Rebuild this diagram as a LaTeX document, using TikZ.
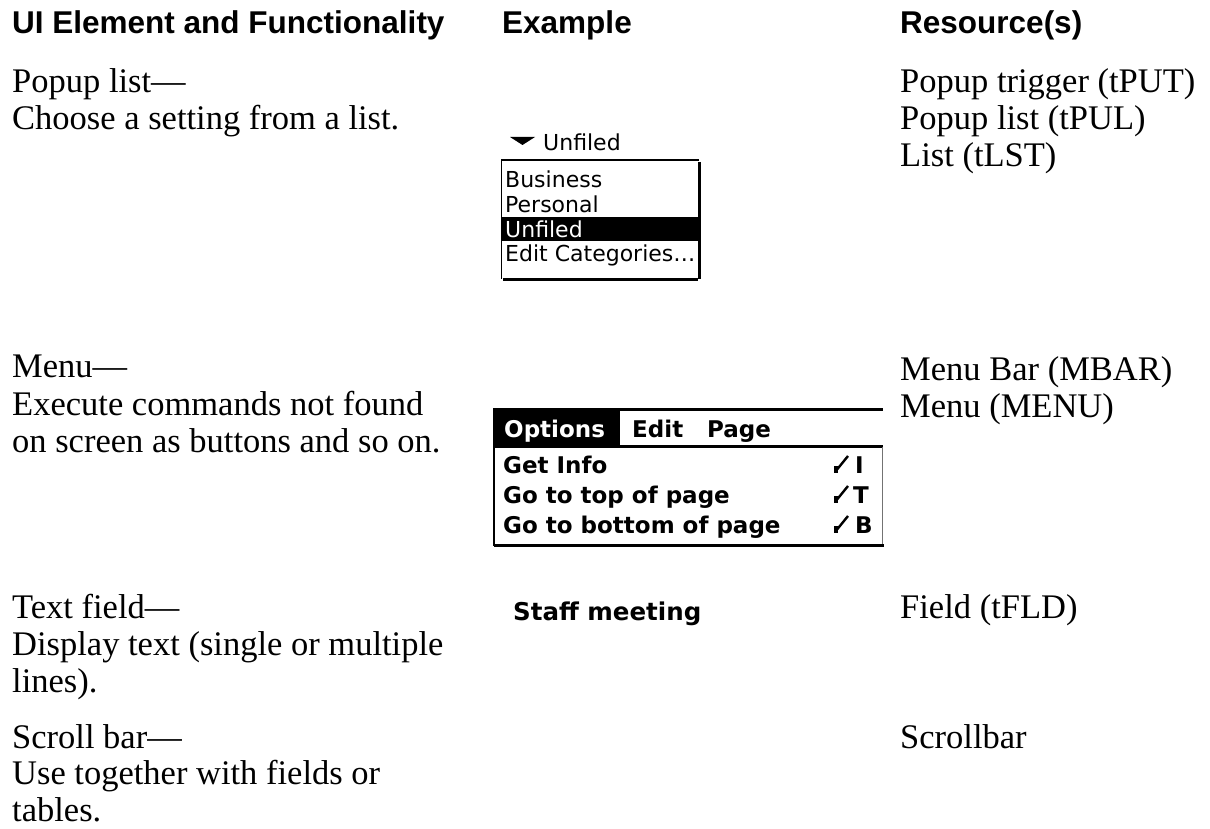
\documentclass[tikz,border=0pt]{standalone}
\usepackage{fontspec}
\setmainfont{Liberation Serif}
\newfontfamily\hdrfont{Liberation Sans}
\newfontfamily\palmfont{DejaVu Sans}
\begin{document}
\begin{tikzpicture}[x=1pt,y=-1pt,
  hdr/.style={anchor=base west,inner sep=0,font=\hdrfont\bfseries\fontsize{31.5}{31.5}\selectfont},
  body/.style={anchor=base west,inner sep=0,font=\fontsize{34.5}{34.5}\selectfont},
  palm/.style={anchor=base west,inner sep=0,font=\palmfont\fontsize{22}{22}\selectfont},
  palmb/.style={anchor=base west,inner sep=0,font=\palmfont\bfseries\fontsize{23}{23}\selectfont},
  cmdstroke/.pic={\draw[line width=2.4pt] (0,-1) -- (13,-17); \fill (-1.5,-7) rectangle (3,0);}
]
\useasboundingbox (0,0) rectangle (1210,829);
% headers
\node[hdr] (h1) at (12,34) {UI Element and Functionality};
\node[hdr] (h2) at (502,34) {Example};
\node[hdr] (h3) at (900,34) {Resource(s)};
% column 1
\node[body] (a1) at (12,93) {Popup list—};
\node[body] (a2) at (12,130) {Choose a setting from a list.};
\node[body] (b1) at (12,377) {Menu—};
\node[body] (b2) at (12,415) {Execute commands not found};
\node[body] (b3) at (12,452) {on screen as buttons and so on.};
\node[body] (c1) at (12,618) {Text field—};
\node[body] (c2) at (12,655) {Display text (single or multiple};
\node[body] (c3) at (12,692) {lines).};
\node[body] (d1) at (12,748) {Scroll bar—};
\node[body] (d2) at (12,784.5) {Use together with fields or};
\node[body] (d3) at (12,821) {tables.};
% column 3
\node[body] (r1) at (900,93) {Popup trigger (tPUT)};
\node[body] (r2) at (900,130) {Popup list (tPUL)};
\node[body] (r3) at (900,167) {List (tLST)};
\node[body] (r4) at (900,380) {Menu Bar (MBAR)};
\node[body] (r5) at (900,417) {Menu (MENU)};
\node[body] (r6) at (900,618) {Field (tFLD)};
\node[body] (r7) at (900,748) {Scrollbar};
% popup example
\fill (510,137) -- (535,137) -- (522.5,145) -- cycle;
\node[palm] (pt) at (543,151) {Unfiled};
\draw[line width=1.2pt] (501.6,160) -- (501.6,279);
\draw[line width=2pt] (501,160) -- (699,160);
\draw[line width=3pt] (699.5,162) -- (699.5,279);
\draw[line width=3pt] (503,279.5) -- (698,279.5);
\fill (502.2,217) rectangle (698,241.5);
\node[palm] (p1) at (505,188) {Business};
\node[palm] (p2) at (505,212.5) {Personal};
\node[palm,text=white] (p3) at (505,237) {Unfiled};
\node[palm] (p4) at (505,261.5) {Edit Categories…};
% menu example
\draw[line width=2.5pt] (493,409.5) -- (883,409.5);
\fill (493,409) rectangle (620,446);
\draw[line width=2.5pt] (493,446.5) -- (883,446.5);
\draw[line width=2pt] (494,446) -- (494,546);
\draw[line width=1.2pt,black!55] (882.4,447) -- (882.4,544);
\draw[line width=3.5pt] (494,545.5) -- (884,545.5);
\node[palmb,text=white] (m0) at (504,437) {Options};
\node[palmb] (m1) at (632,437) {Edit};
\node[palmb] (m2) at (707,437) {Page};
\node[palmb] (i1) at (503,473) {Get Info};
\node[palmb] (i2) at (503,503) {Go to top of page};
\node[palmb] (i3) at (503,533) {Go to bottom of page};
\pic at (835,473) {cmdstroke};
\pic at (835,503) {cmdstroke};
\pic at (835,533) {cmdstroke};
\node[palmb] (k1) at (855,473) {I};
\node[palmb] (k2) at (853,503) {T};
\node[palmb] (k3) at (855,533) {B};
% text field example
\node[palmb,font=\palmfont\bfseries\fontsize{24.5}{24.5}\selectfont] (sf) at (513,620) {Staff meeting};
\end{tikzpicture}
\end{document}
